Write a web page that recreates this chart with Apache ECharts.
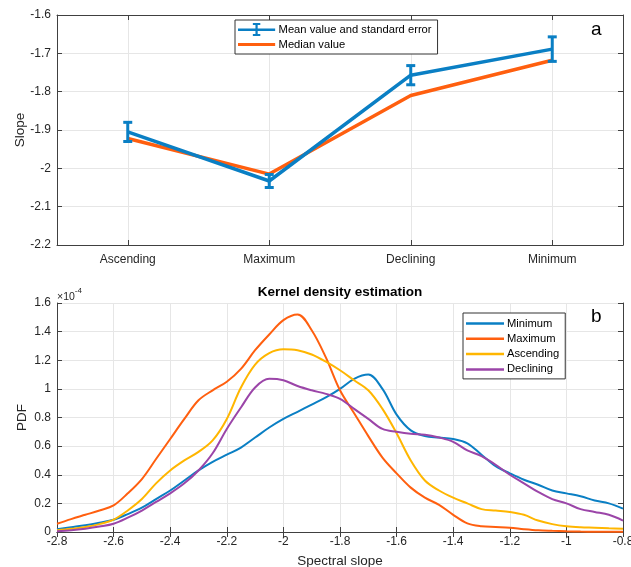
<!DOCTYPE html>
<html>
<head>
<meta charset="utf-8">
<script src="https://cdn.jsdelivr.net/npm/echarts@6/dist/echarts.min.js"></script>
<style>
html, body { margin: 0; padding: 0; background: #fff; }
#main { width: 631px; height: 567px; }
</style>
</head>
<body>
<div id="main"></div>
<script>
// panel a
var phases = ['Ascending', 'Maximum', 'Declining', 'Minimum'];
var meanSlope = [-1.905, -2.033, -1.757, -1.689];
var meanErr = [0.025, 0.017, 0.025, 0.032];
var medianSlope = [-1.922, -2.015, -1.810, -1.718];

// panel b (PDF in units of 1e-4)
var slopeX = [-2.80, -2.75, -2.70, -2.65, -2.60, -2.55, -2.50, -2.45, -2.40, -2.35,
	-2.30, -2.25, -2.20, -2.15, -2.10, -2.05, -2.00, -1.95, -1.90, -1.85,
	-1.80, -1.75, -1.70, -1.65, -1.60, -1.55, -1.50, -1.45, -1.40, -1.35,
	-1.30, -1.25, -1.20, -1.15, -1.10, -1.05, -1.00, -0.95, -0.90, -0.85, -0.80];
var pdfMinimum = [0.019, 0.033, 0.047, 0.065, 0.086, 0.125, 0.17, 0.23, 0.29, 0.36,
	0.43, 0.49, 0.54, 0.59, 0.66, 0.73, 0.79, 0.84, 0.89, 0.94,
	1.00, 1.07, 1.10, 1.00, 0.82, 0.71, 0.67, 0.66, 0.65, 0.62,
	0.54, 0.46, 0.41, 0.365, 0.33, 0.29, 0.27, 0.25, 0.22, 0.20, 0.163];
var pdfMaximum = [0.058, 0.09, 0.12, 0.15, 0.186, 0.27, 0.37, 0.51, 0.65, 0.79,
	0.92, 0.99, 1.05, 1.14, 1.27, 1.38, 1.48, 1.52, 1.41, 1.22,
	0.99, 0.83, 0.67, 0.52, 0.41, 0.31, 0.24, 0.19, 0.12, 0.06,
	0.04, 0.035, 0.03, 0.02, 0.012, 0.008, 0.005, 0.003, 0.002, 0.001, 0.001];
var pdfAscending = [0.012, 0.022, 0.035, 0.055, 0.086, 0.15, 0.23, 0.34, 0.43, 0.50,
	0.56, 0.64, 0.79, 1.01, 1.17, 1.25, 1.277, 1.27, 1.24, 1.19,
	1.13, 1.06, 0.99, 0.86, 0.69, 0.50, 0.36, 0.29, 0.24, 0.20,
	0.16, 0.15, 0.14, 0.12, 0.08, 0.055, 0.04, 0.033, 0.03, 0.026, 0.023];
var pdfDeclining = [0.005, 0.012, 0.023, 0.038, 0.058, 0.10, 0.15, 0.21, 0.27, 0.34,
	0.43, 0.55, 0.72, 0.87, 1.01, 1.07, 1.06, 1.02, 0.99, 0.965,
	0.93, 0.86, 0.79, 0.72, 0.70, 0.686, 0.68, 0.66, 0.63, 0.57,
	0.53, 0.47, 0.40, 0.34, 0.28, 0.23, 0.20, 0.16, 0.14, 0.12, 0.08];

var BLUE = '#0a7fc4', ORANGE = '#ff5f0f', YELLOW = '#ffb600', PURPLE = '#9b45a8';
var TXT = '#262626', AXIS = '#404040', GRIDC = '#e6e6e6';
var FONT = 'Liberation Sans';

function pairs(ys) {
	return slopeX.map(function (x, i) { return [x, ys[i]]; });
}

function oneDecimal(v) {
	return String(Math.round(v * 10) / 10);
}

function axisBase(extra) {
	var a = {
		axisLine: { show: true, lineStyle: { color: AXIS, width: 1 } },
		axisTick: { show: true, inside: true, length: 5, lineStyle: { color: AXIS } },
		axisLabel: { color: TXT, fontSize: 12, fontFamily: FONT },
		splitLine: { show: false }
	};
	for (var k in extra) { a[k] = extra[k]; }
	return a;
}

var chart = echarts.init(document.getElementById('main'));

var errData = phases.map(function (p, i) {
	return [i, meanSlope[i] - meanErr[i], meanSlope[i] + meanErr[i]];
});

var option = {
	animation: false,
	textStyle: { fontFamily: FONT },
	grid: [
		{ left: 57, right: 8, top: 15, height: 230, outerBoundsMode: 'none', containLabel: false },
		{ left: 57, right: 8, top: 303, height: 229, outerBoundsMode: 'none', containLabel: false }
	],
	xAxis: [
		axisBase({
			gridIndex: 0, type: 'category', data: phases, position: 'bottom',
			axisTick: { show: true, inside: true, length: 5, alignWithLabel: true, lineStyle: { color: AXIS } },
			axisLabel: { color: TXT, fontSize: 12, fontFamily: FONT, margin: 9 },
			splitLine: { show: true, alignWithLabel: true, lineStyle: { color: GRIDC } }
		}),
		axisBase({
			gridIndex: 0, type: 'category', data: phases, position: 'top',
			axisTick: { show: true, inside: true, length: 5, alignWithLabel: true, lineStyle: { color: AXIS } },
			axisLabel: { show: false }
		}),
		axisBase({
			gridIndex: 1, type: 'value', min: -2.8, max: -0.8, interval: 0.2, position: 'bottom',
			axisLabel: { color: TXT, fontSize: 12, fontFamily: FONT, margin: 4, formatter: oneDecimal },
			splitLine: { show: true, lineStyle: { color: GRIDC } },
			name: 'Spectral slope', nameLocation: 'middle', nameGap: 22,
			nameTextStyle: { color: TXT, fontSize: 13.5, fontFamily: FONT }
		}),
		axisBase({
			gridIndex: 1, type: 'value', min: -2.8, max: -0.8, interval: 0.2, position: 'top',
			axisLabel: { show: false }
		})
	],
	yAxis: [
		axisBase({
			gridIndex: 0, type: 'value', min: -2.2, max: -1.6, interval: 0.1, position: 'left',
			axisLabel: { color: TXT, fontSize: 12, fontFamily: FONT, margin: 6, formatter: oneDecimal },
			splitLine: { show: true, lineStyle: { color: GRIDC } },
			name: 'Slope', nameLocation: 'middle', nameGap: 30, nameRotate: 90, nameMoveOverlap: false,
			nameTextStyle: { color: TXT, fontSize: 13.5, fontFamily: FONT }
		}),
		axisBase({
			gridIndex: 0, type: 'value', min: -2.2, max: -1.6, interval: 0.1, position: 'right',
			axisLabel: { show: false }
		}),
		axisBase({
			gridIndex: 1, type: 'value', min: 0, max: 1.6, interval: 0.2, position: 'left',
			axisLabel: { color: TXT, fontSize: 12, fontFamily: FONT, margin: 6, formatter: oneDecimal },
			splitLine: { show: true, lineStyle: { color: GRIDC } },
			name: 'PDF', nameLocation: 'middle', nameGap: 28, nameRotate: 90, nameMoveOverlap: false,
			nameTextStyle: { color: TXT, fontSize: 13.5, fontFamily: FONT }
		}),
		axisBase({
			gridIndex: 1, type: 'value', min: 0, max: 1.6, interval: 0.2, position: 'right',
			axisLabel: { show: false }
		})
	],
	legend: [
		{
			data: [
				{ name: 'Mean value and standard error', icon: 'path://M0,0M40,14M0,6H40V8.6H0Z M18.8,0H21.2V14H18.8Z M16,0H24V2.2H16Z M16,11.8H24V14H16Z' },
				{ name: 'Median value', icon: 'path://M0,0M40,14M0,5.3H40V8.7H0Z' }
			],
			orient: 'vertical', left: 235, top: 20, width: 200,
			itemWidth: 38, itemHeight: 13, itemGap: 2,
			padding: [3, 6, 3, 3],
			backgroundColor: '#fff', borderColor: '#333', borderWidth: 1, borderRadius: 0,
			textStyle: { color: '#000', fontSize: 11.2, fontFamily: FONT, padding: [0, 0, 0, -2] }
		},
		{
			data: ['Minimum', 'Maximum', 'Ascending', 'Declining'],
			orient: 'vertical', left: 463, top: 313,
			itemWidth: 38, itemHeight: 2.5, itemGap: 4.3,
			icon: 'rect',
			padding: [5, 6, 4, 3],
			backgroundColor: '#fff', borderColor: '#333', borderWidth: 1, borderRadius: 0,
			textStyle: { color: '#000', fontSize: 11.2, fontFamily: FONT, padding: [0, 0, 0, -2] }
		}
	],
	graphic: [
		{ type: 'text', left: 591, top: 20, style: { text: 'a', fontSize: 19, fontFamily: FONT, fill: '#000' } },
		{ type: 'text', left: 591, top: 307, style: { text: 'b', fontSize: 19, fontFamily: FONT, fill: '#000' } },
		{ type: 'text', x: 340, y: 292, style: { text: 'Kernel density estimation', fontSize: 13.5, fontWeight: 'bold', fontFamily: FONT, fill: '#000', align: 'center', verticalAlign: 'middle' } },
		{ type: 'text', left: 57, top: 287, style: {
			text: '{a|\u00d710}{b|-4}', fontFamily: FONT,
			rich: {
				a: { fontSize: 10.5, fill: TXT, fontFamily: FONT, padding: [5, 0, 0, 0] },
				b: { fontSize: 8, fill: TXT, fontFamily: FONT, verticalAlign: 'top' }
			}
		} }
	],
	series: [
		{
			name: 'Mean value and standard error', type: 'line',
			xAxisIndex: 0, yAxisIndex: 0, data: meanSlope,
			symbol: 'none', z: 3,
			color: BLUE,
			lineStyle: { color: BLUE, width: 3.5 }
		},
		{
			name: 'Mean value and standard error', type: 'custom',
			xAxisIndex: 0, yAxisIndex: 0, data: errData, z: 4,
			color: BLUE,
			renderItem: function (params, api) {
				var lo = api.coord([api.value(0), api.value(1)]);
				var hi = api.coord([api.value(0), api.value(2)]);
				var hw = 4.5;
				var st = { stroke: BLUE, lineWidth: 3, fill: null };
				return {
					type: 'group',
					children: [
						{ type: 'line', shape: { x1: lo[0], y1: lo[1], x2: hi[0], y2: hi[1] }, style: st },
						{ type: 'line', shape: { x1: lo[0] - hw, y1: lo[1], x2: lo[0] + hw, y2: lo[1] }, style: st },
						{ type: 'line', shape: { x1: hi[0] - hw, y1: hi[1], x2: hi[0] + hw, y2: hi[1] }, style: st }
					]
				};
			}
		},
		{
			name: 'Median value', type: 'line',
			xAxisIndex: 0, yAxisIndex: 0, data: medianSlope,
			symbol: 'none', z: 2,
			color: ORANGE,
			lineStyle: { color: ORANGE, width: 3.5 }
		},
		{
			name: 'Minimum', type: 'line', xAxisIndex: 2, yAxisIndex: 2,
			data: pairs(pdfMinimum), symbol: 'none', smooth: 0.35, color: BLUE,
			lineStyle: { color: BLUE, width: 2 }
		},
		{
			name: 'Maximum', type: 'line', xAxisIndex: 2, yAxisIndex: 2,
			data: pairs(pdfMaximum), symbol: 'none', smooth: 0.35, color: ORANGE,
			lineStyle: { color: ORANGE, width: 2 }
		},
		{
			name: 'Ascending', type: 'line', xAxisIndex: 2, yAxisIndex: 2,
			data: pairs(pdfAscending), symbol: 'none', smooth: 0.35, color: YELLOW,
			lineStyle: { color: YELLOW, width: 2 }
		},
		{
			name: 'Declining', type: 'line', xAxisIndex: 2, yAxisIndex: 2,
			data: pairs(pdfDeclining), symbol: 'none', smooth: 0.35, color: PURPLE,
			lineStyle: { color: PURPLE, width: 2 }
		}
	]
};

chart.setOption(option);
</script>
</body>
</html>
